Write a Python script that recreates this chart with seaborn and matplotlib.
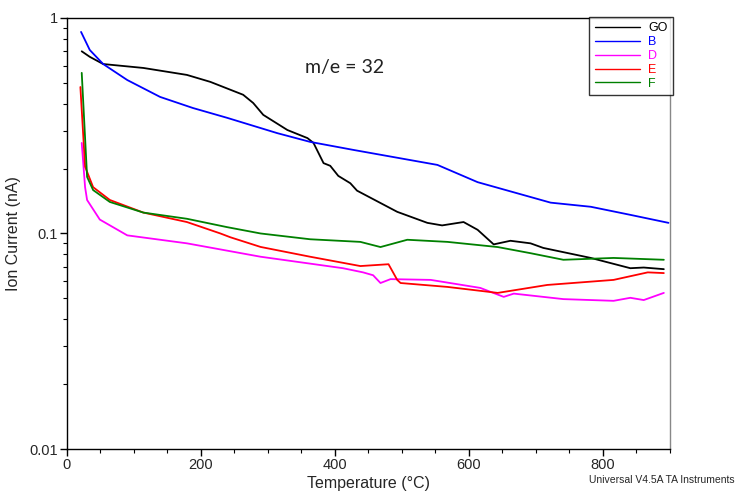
import numpy as np
import pandas as pd
import matplotlib
matplotlib.use('Agg')
import matplotlib.pyplot as plt
import seaborn as sns
from matplotlib.ticker import FixedLocator, MultipleLocator, LogLocator, NullFormatter

# Data (temperature in °C, ion current in nA)
go_t = [22, 34, 54, 114, 179, 214, 263, 278, 293, 329, 359, 368, 383, 393, 405, 423, 433,
        493, 538, 560, 592, 613, 637, 662, 692, 711, 782, 841, 861, 891]
go_v = [0.70, 0.66, 0.611, 0.586, 0.544, 0.505, 0.44, 0.403, 0.355, 0.302, 0.277, 0.263,
        0.212, 0.206, 0.185, 0.171, 0.158, 0.126, 0.112, 0.109, 0.113, 0.104, 0.089,
        0.0925, 0.090, 0.0857, 0.077, 0.069, 0.0695, 0.0683]

b_t = [21, 34, 54, 90, 139, 188, 239, 314, 363, 428, 553, 613, 722, 782, 841, 898]
b_v = [0.861, 0.71, 0.611, 0.515, 0.43, 0.382, 0.344, 0.292, 0.266, 0.244, 0.208,
       0.173, 0.139, 0.133, 0.122, 0.112]

d_t = [22, 27, 30, 49, 90, 179, 289, 412, 442, 457, 468, 483, 543, 617, 652, 667,
       741, 816, 841, 861, 891]
d_v = [0.263, 0.164, 0.143, 0.116, 0.098, 0.090, 0.078, 0.069, 0.066, 0.064, 0.0589,
       0.0614, 0.0609, 0.0559, 0.0508, 0.0526, 0.0496, 0.0487, 0.0503, 0.0491, 0.053]

e_t = [20, 27, 39, 64, 114, 179, 229, 244, 289, 363, 438, 480, 493, 498, 568, 643,
       717, 816, 867, 891]
e_v = [0.478, 0.204, 0.164, 0.143, 0.125, 0.113, 0.100, 0.096, 0.0866, 0.078, 0.0706,
       0.072, 0.0609, 0.0589, 0.0565, 0.053, 0.0577, 0.0609, 0.066, 0.0655]

f_t = [22, 30, 39, 64, 114, 179, 239, 289, 363, 438, 468, 508, 568, 643, 692, 741,
       816, 891]
f_v = [0.556, 0.183, 0.159, 0.14, 0.125, 0.117, 0.107, 0.100, 0.094, 0.0914, 0.0865,
       0.0935, 0.0914, 0.0865, 0.081, 0.0755, 0.077, 0.0755]

labels = ['GO', 'B', 'D', 'E', 'F']
colors = ['#000000', '#0000ff', '#ff00ff', '#ff0000', '#008000']

frames = []
for lab, t, v in zip(labels, [go_t, b_t, d_t, e_t, f_t], [go_v, b_v, d_v, e_v, f_v]):
    frames.append(pd.DataFrame({'Temperature': t, 'Current': v, 'Sample': lab}))
df = pd.concat(frames, ignore_index=True)

sns.set_style('ticks')
plt.rcParams['font.family'] = ['Liberation Sans', 'DejaVu Sans']

fig = plt.figure(figsize=(7.37, 4.91), dpi=100)
ax = fig.add_axes([0.0909, 0.0855, 0.818, 0.878])

sns.lineplot(data=df, x='Temperature', y='Current', hue='Sample',
             palette=dict(zip(labels, colors)), hue_order=labels,
             linewidth=1.3, ax=ax, legend=True, sort=False)

ax.set_yscale('log')
ax.set_xlim(0, 900)
ax.set_ylim(0.01, 1)
ax.xaxis.set_major_locator(FixedLocator([0, 200, 400, 600, 800]))
ax.xaxis.set_minor_locator(MultipleLocator(50))
ax.yaxis.set_major_locator(FixedLocator([0.01, 0.1, 1]))
ax.set_yticklabels(['0.01', '0.1', '1'])
ax.yaxis.set_minor_locator(LogLocator(base=10, subs=np.arange(2, 10)))
ax.yaxis.set_minor_formatter(NullFormatter())
ax.tick_params(axis='both', which='major', direction='out', length=5, width=1,
               labelsize=10.5, color='black', pad=1.5)
ax.tick_params(axis='both', which='minor', direction='out', length=3, width=0.8,
               color='black')

for side in ['left', 'bottom', 'top']:
    ax.spines[side].set_color('black')
    ax.spines[side].set_linewidth(1)
ax.spines['right'].set_color('#888888')
ax.spines['right'].set_linewidth(1)
ax.spines['top'].set_visible(True)
ax.spines['right'].set_visible(True)

ax.set_xlabel('Temperature (°C)', fontsize=11.5, labelpad=3)
ax.set_ylabel('Ion Current (nA)', fontsize=11.5, labelpad=6)

ax.text(415, 0.59, 'm/e = 32', fontsize=14, ha='center', va='center',
        family=['Lato', 'DejaVu Sans'], color='#222222')

handles, labs = ax.get_legend_handles_labels()
leg = ax.legend(handles, labs, loc='upper right', bbox_to_anchor=(1.006, 1.003),
                fontsize=9, frameon=True, fancybox=False, handlelength=3.6,
                handletextpad=0.7, borderpad=0.45, labelspacing=0.15,
                borderaxespad=0)
leg.get_frame().set_edgecolor('black')
leg.get_frame().set_linewidth(1)
for txt, c in zip(leg.get_texts(), colors):
    txt.set_color(c)
for ln in leg.get_lines():
    ln.set_linewidth(1)

fig.text(0.997, 0.012, 'Universal V4.5A TA Instruments', fontsize=7.5,
         ha='right', va='bottom', stretch='condensed')

fig.savefig('out.png', dpi=100)
